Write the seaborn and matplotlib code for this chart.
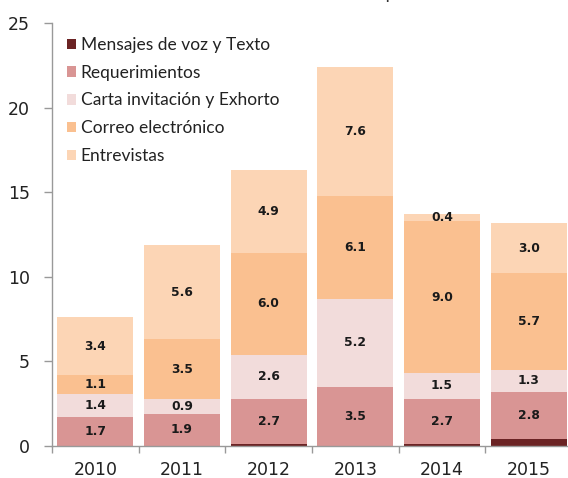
import matplotlib
matplotlib.use("Agg")
import matplotlib.pyplot as plt
import seaborn as sns
import numpy as np
import pandas as pd
from matplotlib.patches import Patch

years = ["2010", "2011", "2012", "2013", "2014", "2015"]
series = ["Mensajes de voz y Texto", "Requerimientos", "Carta invitación y Exhorto",
          "Correo electrónico", "Entrevistas"]
mensajes = [0.0, 0.0, 0.1, 0.0, 0.1, 0.4]
requerimientos = [1.7, 1.9, 2.7, 3.5, 2.7, 2.8]
carta = [1.4, 0.9, 2.6, 5.2, 1.5, 1.3]
correo = [1.1, 3.5, 6.0, 6.1, 9.0, 5.7]
entrevistas = [3.4, 5.6, 4.9, 7.6, 0.4, 3.0]
values = [mensajes, requerimientos, carta, correo, entrevistas]
colors = ["#6B2324", "#D99594", "#F2DCDB", "#FAC090", "#FCD5B5"]
show_labels = [False, True, True, True, True]
title = "Miles de millones de pesos"

sns.set_theme(style="white")
plt.rcParams["font.family"] = ["DejaVu Sans"]

fig = plt.figure(figsize=(5.68, 4.78), dpi=100)
ax = fig.add_axes([52 / 568, 32 / 478, 520 / 568, 423 / 478])

bottom = np.zeros(len(years))
for name, vals, col, lab in zip(series, values, colors, show_labels):
    df = pd.DataFrame({"year": years, "v": vals})
    sns.barplot(data=df, x="year", y="v", color=col, bottom=bottom, width=0.88,
                saturation=1, ax=ax, linewidth=0, errorbar=None)
    if lab:
        for i, v in enumerate(vals):
            if v > 0:
                ax.text(i, bottom[i] + v / 2, f"{v:.1f}", ha="center", va="center",
                        fontsize=8.8, fontweight="bold", color="#1a1a1a")
    bottom = bottom + np.array(vals)

ax.set_xlim(-0.5, 5.5)
ax.set_ylim(0, 25)
ax.set_yticks([0, 5, 10, 15, 20, 25])
ax.set_xlabel("")
ax.set_ylabel("")
ax.set_xticks(range(len(years)))
ax.set_xticklabels(years)
ax.set_xticks(np.arange(-0.5, 5.6, 1), minor=True)
ax.tick_params(axis="x", which="major", length=0, labelsize=12.5, pad=11, colors="#222222")
ax.tick_params(axis="x", which="minor", length=5, width=1, color="#999999", bottom=True)
ax.tick_params(axis="y", length=6, width=1, color="#999999", labelsize=12.5,
               colors="#222222", left=True, pad=10)
ax.tick_params(axis="y", color="#999999")
for s in ["top", "right"]:
    ax.spines[s].set_visible(False)
for s in ["left", "bottom"]:
    ax.spines[s].set_color("#999999")
    ax.spines[s].set_linewidth(1)

handles = [Patch(facecolor=c, edgecolor="none") for c in colors]
leg = ax.legend(handles, series, loc="upper left", bbox_to_anchor=(0.002, 1.0),
                frameon=False, handlelength=0.55, handleheight=0.55, handletextpad=0.25,
                labelspacing=0.68, borderaxespad=0.4,
                prop={"family": "Lato", "size": 12.5})
for t in leg.get_texts():
    t.set_color("#222222")

fig.text(325 / 568, 1 + 0.5 / 478, title, ha="center", va="baseline", fontsize=13,
         color="#333333", family="Lato")

fig.savefig("out.png", dpi=100)
